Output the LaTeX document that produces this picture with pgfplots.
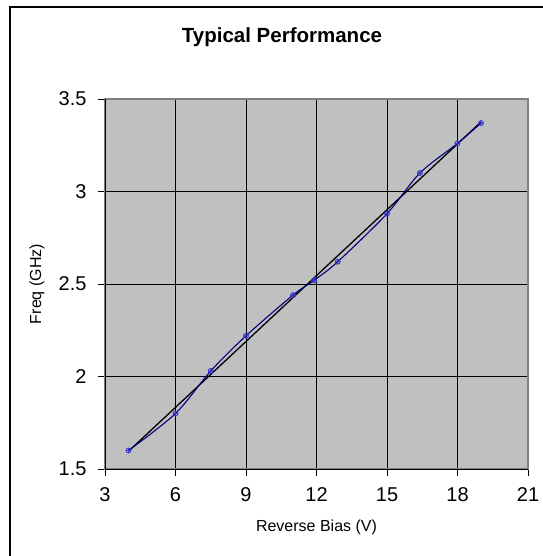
\documentclass[border=0pt]{standalone}
\usepackage{fontspec}
\setmainfont{Liberation Sans}
\usepackage{pgfplots}
\pgfplotsset{compat=1.18}
\definecolor{plotgray}{HTML}{C0C0C0}
\definecolor{framegray}{HTML}{808080}
\definecolor{series}{HTML}{000080}
\definecolor{mk}{HTML}{3333CC}
\begin{document}
\begin{tikzpicture}
\path[use as bounding box] (0,0) rectangle (543bp,-556bp);
\draw[line width=1.5bp] (10bp,-556bp) -- (10bp,-7bp) -- (543bp,-7bp);
\node[font=\bfseries\fontsize{20.5bp}{24bp}\selectfont] at (282bp,-37bp) {Typical Performance};
\begin{axis}[
  at={(105bp,-469bp)}, anchor=south west,
  scale only axis, width=423bp, height=370bp,
  xmin=3, xmax=21, ymin=1.5, ymax=3.5,
  xtick={3,6,...,21}, ytick={1.5,2,...,3.5},
  /pgf/number format/assume math mode=true,
  ticklabel style={font=\fontsize{20bp}{23bp}\selectfont},
  xticklabel style={yshift=-8bp},
  yticklabel style={xshift=-8bp},
  label style={font=\fontsize{16bp}{19bp}\selectfont},
  axis background/.style={fill=plotgray},
  axis line style={draw=framegray, line width=1.5bp},
  grid=major,
  major grid style={black, line width=0.8bp},
  tick align=outside, xtick pos=bottom, ytick pos=left,
  major tick length=7bp,
  every tick/.style={black, line width=0.8bp},
  xlabel={Reverse Bias (V)}, ylabel={Freq (GHz)},
  xlabel style={at={(axis description cs:0.5,-0.157)}, anchor=center},
  ylabel style={at={(axis description cs:-0.161,0.5)}, anchor=center},
  clip=false,
]
\draw[black, line width=1bp] (rel axis cs:0,1) -- (rel axis cs:0,0) -- (rel axis cs:1,0);
\addplot[black, line width=1.3bp] coordinates {(4,1.596) (19,3.376)};
\addplot[series, line width=1.1bp, smooth, mark=oplus, mark size=2.5bp,
  mark options={mk, line width=0.8bp}] coordinates {
  (4,1.60) (6,1.80) (7.5,2.03) (9,2.22) (11,2.44) (11.9,2.52)
  (12.9,2.62) (15,2.88) (16.4,3.10) (18,3.26) (19,3.37)
};
\end{axis}
\end{tikzpicture}
\end{document}
